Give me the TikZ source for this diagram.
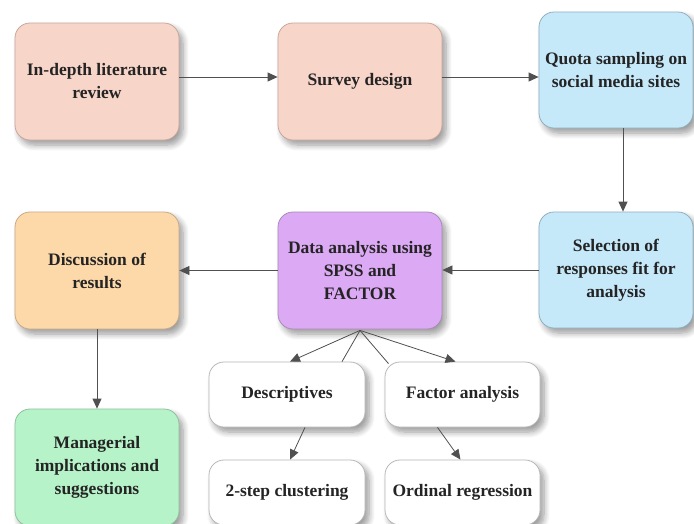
\documentclass[tikz,border=0pt]{standalone}
\usepackage{fontspec}
\setmainfont{Liberation Serif}
\usetikzlibrary{arrows.meta,shadows,shadows.blur,calc}
\definecolor{pinkf}{HTML}{F8D5C9}
\definecolor{pinkd}{HTML}{C7A69C}
\definecolor{bluef}{HTML}{C6E9FA}
\definecolor{blued}{HTML}{8FAFC0}
\definecolor{purf}{HTML}{DCA9F4}
\definecolor{purd}{HTML}{A98BB8}
\definecolor{oraf}{HTML}{FDD9A9}
\definecolor{orad}{HTML}{C8A888}
\definecolor{grnf}{HTML}{B6F3C8}
\definecolor{grnd}{HTML}{90BFA0}
\definecolor{whd}{HTML}{B8B8B8}
\definecolor{txt}{HTML}{242424}
\definecolor{lin}{HTML}{505050}
\tikzset{
  box/.style={rounded corners=15pt, draw, line width=0.8pt, align=center,
    text=txt, font=\bfseries\fontsize{17.5}{23}\selectfont,
    minimum width=164pt, minimum height=117pt, inner sep=2pt,
    blur shadow={shadow xshift=4pt, shadow yshift=-5pt, shadow blur steps=8, shadow opacity=40, shadow blur radius=6pt}},
  smallbox/.style={box, minimum width=156pt, minimum height=65pt, fill=white, draw=whd},
  conn/.style={draw=lin, line width=0.8pt},
  arr/.style={conn, -{Triangle[length=10pt,width=9pt]}}
}
\begin{document}
\begin{tikzpicture}[x=1pt,y=-1pt]
\useasboundingbox (0,0) rectangle (694,523);
\node[box, fill=pinkf, draw=pinkd] (b1) at (97,81.5) {In-depth literature\\review};
\node[box, fill=pinkf, draw=pinkd] (b2) at (360,81.5) {Survey design};
\node[box, fill=bluef, draw=blued, minimum width=154pt, minimum height=116pt] (b3) at (616,70) {Quota sampling on\\social media sites};
\node[box, fill=bluef, draw=blued, minimum width=154pt, minimum height=116pt] (b4) at (616,270) {Selection of\\responses fit for\\analysis};
\node[box, fill=purf, draw=purd] (b5) at (360,270.5) {Data analysis using\\SPSS and\\FACTOR};
\node[box, fill=oraf, draw=orad] (b6) at (97,270.5) {Discussion of\\results};
\node[box, fill=grnf, draw=grnd] (b7) at (97,467.5) {Managerial\\implications and\\suggestions};
\node[smallbox] (d1) at (287,394.5) {Descriptives};
\node[smallbox, minimum width=155pt] (d2) at (462.5,394.5) {Factor analysis};
\node[smallbox] (d3) at (287,492.5) {2-step clustering};
\node[smallbox, minimum width=155pt] (d4) at (462.5,492.5) {Ordinal regression};
% connectors
\coordinate (r1) at ([yshift=4.5pt]b1.east);
\coordinate (r2) at ([yshift=4.5pt]b2.east);
\coordinate (c3) at ([xshift=7pt]b3.south);
\draw[arr] (r1) -- (r1 -| b2.west);
\draw[arr] (r2) -- (r2 -| b3.west);
\draw[arr] (c3) -- (c3 |- b4.north);
\draw[arr] (b4.west) -- (b4.west -| b5.east);
\draw[arr] (b5.west) -- (b5.west -| b6.east);
\draw[arr] (b6.south) -- (b7.north);
\coordinate (apex) at ([yshift=-1pt]b5.south);
\coordinate (l1) at ([xshift=55pt]d1.north);
\coordinate (l2) at ([xshift=-74pt,yshift=-2pt]d2.north);
\draw[arr] (apex) -- ([xshift=3pt]d1.north);
\draw[conn] (apex) -- (l1);
\draw[conn] (apex) -- (l2);
\draw[arr] (apex) -- ([xshift=-7pt]d2.north);
\draw[arr] ([xshift=18pt]d1.south) -- ([xshift=3pt]d3.north);
\draw[arr] ([xshift=-25pt]d2.south) -- ([xshift=-2pt]d4.north);
\end{tikzpicture}
\end{document}
